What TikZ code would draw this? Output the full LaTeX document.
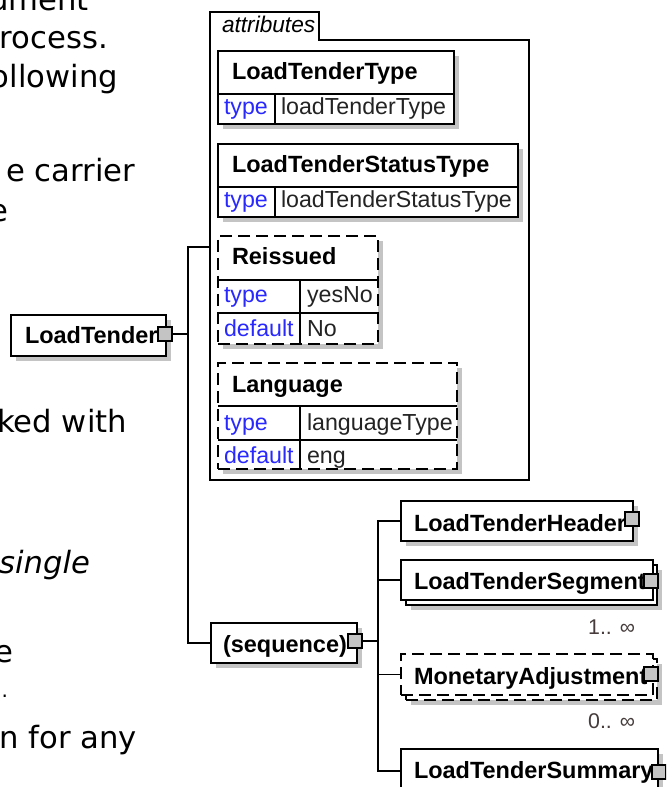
\documentclass[tikz,border=0pt]{standalone}
\usepackage{fontspec}
\setmainfont{Liberation Sans}
\newfontfamily\verd{DejaVu Sans}
\usetikzlibrary{shadows}
\definecolor{shadowgray}{RGB}{196,196,196}
\definecolor{attrblue}{RGB}{40,40,255}
\definecolor{valgray}{RGB}{35,35,35}
\definecolor{occ}{RGB}{70,60,60}
\newcommand\xbox[6]{\node[elbox,#6,minimum width=#4*0.75pt,minimum height=#5*0.75pt] (#1) at (#2,#3) {};}
\begin{document}
\begin{tikzpicture}[x=0.75pt,y=-0.75pt,
  every node/.style={inner sep=0pt,outer sep=0pt},
  elbox/.style={draw=black,line width=0.9pt,fill=white,anchor=north west},
  shad/.style={drop shadow={shadow xshift=3.75pt,shadow yshift=-3.75pt,fill=shadowgray,opacity=1}},
  optbox/.style={dash pattern=on 9pt off 4.5pt},
  inner/.style={line width=0.9pt},
  ename/.style={font=\fontsize{17.6}{20}\selectfont\bfseries,anchor=base west},
  key/.style={font=\fontsize{17.4}{20}\selectfont,text=attrblue,anchor=base west},
  val/.style={font=\fontsize{17.4}{20}\selectfont,text=valgray,anchor=base west},
  occlabel/.style={font=\fontsize{16}{20}\selectfont,text=occ,anchor=base east},
  prose/.style={font=\verd\fontsize{23}{27}\selectfont,anchor=base east},
  expander/.style={draw=black,line width=0.9pt,fill=shadowgray,minimum width=14*0.75pt,minimum height=14*0.75pt,anchor=north west},
  conn/.style={line width=0.9pt},
]
\useasboundingbox (0,0) rectangle (666,787);
\clip (0,0) rectangle (666,787);
\fill[white] (0,0) rectangle (666,787);

% prose fragments on the left
\node[prose] (p1) at (89,11) {ument};
\node[prose] (p2) at (108,49) {rocess.};
\node[prose] (p3) at (118,88) {ollowing};
\node[prose] (p4) at (135,182) {e carrier};
\node[prose] (p5) at (8,222) {e};
\node[prose] (p6) at (127,432) {ked with};
\node[prose,font=\verd\itshape\fontsize{23}{27}\selectfont] (p7) at (90,573) {single};
\node[prose] (p8) at (13,662) {e};
\node[prose,font=\verd\fontsize{15}{18}\selectfont] (p9) at (8,697) {.};
\node[prose] (p10) at (137,748) {on for any};

% attributes container
\draw[conn] (210,480) -- (210,12) -- (319,12) -- (319,40) -- (529,40) -- (529,480) -- cycle;
\coordinate (attrs) at (210,247);
\node[font=\fontsize{17}{20}\selectfont\itshape,anchor=base west] (attrlbl) at (222,33) {attributes};

% LoadTenderType
\xbox{ltt}{218}{51}{236}{73}{shad}
\draw[inner] (218,94) -- (454,94) (275,94) -- (275,124);
\node[ename] (ltt-n) at (232,80) {LoadTenderType};
\node[key] (ltt-k) at (224,115) {type};
\node[val] (ltt-v) at (281,115) {loadTenderType};

% LoadTenderStatusType
\xbox{lts}{218}{144}{300}{73}{shad}
\draw[inner] (218,187) -- (518,187) (275,187) -- (275,217);
\node[ename] (lts-n) at (232,173) {LoadTenderStatusType};
\node[key] (lts-k) at (224,208) {type};
\node[val] (lts-v) at (281,208) {loadTenderStatusType};

% Reissued
\xbox{reis}{218}{236}{160}{108}{shad,optbox}
\draw[inner] (218,280) -- (378,280) (218,313) -- (378,313) (300,280) -- (300,344);
\node[ename] (reis-n) at (232,265) {Reissued};
\node[key] (reis-k1) at (224,303) {type};
\node[val] (reis-v1) at (307,303) {yesNo};
\node[key] (reis-k2) at (224,336) {default};
\node[val] (reis-v2) at (307,336) {No};

% Language
\xbox{lang}{218}{363}{239}{106}{shad,optbox}
\draw[inner] (218,406) -- (457,406) (218,440) -- (457,440) (300,406) -- (300,469);
\node[ename] (lang-n) at (232,392) {Language};
\node[key] (lang-k1) at (224,430) {type};
\node[val] (lang-v1) at (307,430) {languageType};
\node[key] (lang-k2) at (224,463) {default};
\node[val] (lang-v2) at (307,463) {eng};

% LoadTender
\xbox{lt}{11}{315}{155}{41}{shad}
\node[ename] (lt-n) at (25,343) {LoadTender};
\node[expander] (ltexp) at (158,327) {};

% sequence
\xbox{seq}{211}{623}{146}{40}{shad}
\node[ename] (seq-n) at (223,652) {(sequence)};
\node[expander] (seqexp) at (348,634) {};

% children
\xbox{hdr}{401}{501}{232}{40}{shad}
\node[ename] (hdr-n) at (414,531) {LoadTenderHeader};
\node[expander] (hdrexp) at (625,512) {};

\xbox{segb}{406}{565}{251}{40}{shad}
\xbox{seg}{401}{560}{252}{40}{}
\node[ename] (seg-n) at (414,589) {LoadTenderSegment};
\node[expander] (segexp) at (644,574) {};
\node[occlabel] (seg-o) at (635,634) {1.. ∞};

\xbox{monb}{406}{659}{251}{41}{shad,optbox}
\xbox{mon}{401}{654}{252}{41}{optbox}
\node[ename] (mon-n) at (414,684) {MonetaryAdjustment};
\node[expander] (monexp) at (644,667) {};
\node[occlabel] (mon-o) at (635,728) {0.. ∞};

\xbox{sum}{401}{749}{257}{44}{shad}
\node[ename] (sum-n) at (414,778) {LoadTenderSummary};
\node[expander] (sumexp) at (652,765) {};

% connectors
\coordinate (bus1) at (188,247);
\draw[conn] (attrs) -- (bus1) |- (seq.west);
\draw[conn] (ltexp.east) -- (ltexp.east -| bus1);
\coordinate (bus2) at (378,521);
\draw[conn] (seqexp.east) -- (seqexp.east -| bus2);
\draw[conn] (hdr.west) -- (bus2) |- (sum.west);
\draw[conn] (seg.west) -- (seg.west -| bus2);
\draw[conn] (mon.west) -- (mon.west -| bus2);
\end{tikzpicture}
\end{document}
